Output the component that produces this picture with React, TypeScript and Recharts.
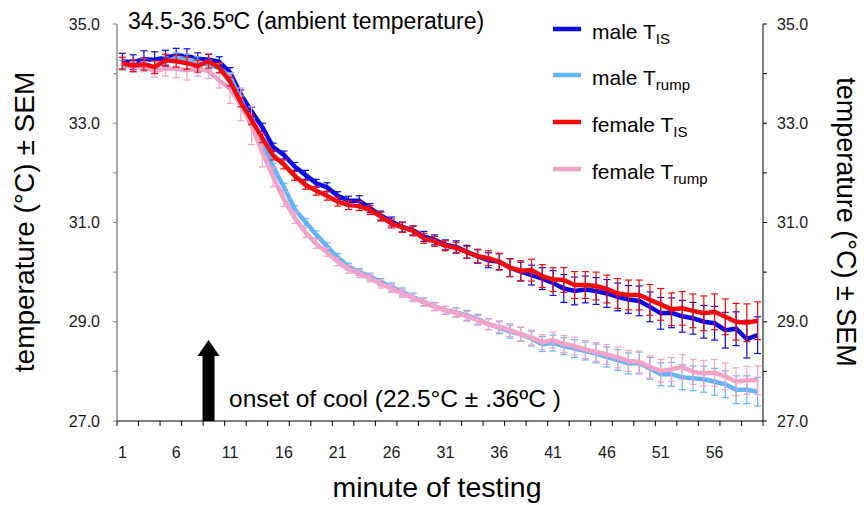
import React from 'react';
import { ComposedChart, Line, XAxis, YAxis, ErrorBar, ReferenceLine } from 'recharts';

const FONT = "'Liberation Sans', Arial, Helvetica, sans-serif";

const minutes = [1, 2, 3, 4, 5, 6, 7, 8, 9, 10, 11, 12, 13, 14, 15, 16, 17, 18, 19, 20, 21, 22, 23, 24, 25, 26, 27, 28, 29, 30, 31, 32, 33, 34, 35, 36, 37, 38, 39, 40, 41, 42, 43, 44, 45, 46, 47, 48, 49, 50, 51, 52, 53, 54, 55, 56, 57, 58, 59, 60];

const maleIS = [34.25, 34.23, 34.29, 34.28, 34.32, 34.37, 34.35, 34.30, 34.28, 34.24, 34.02, 33.58, 33.24, 32.92, 32.52, 32.36, 32.13, 31.96, 31.79, 31.71, 31.54, 31.44, 31.44, 31.29, 31.14, 31.02, 30.91, 30.84, 30.72, 30.65, 30.55, 30.51, 30.41, 30.32, 30.24, 30.21, 30.09, 30.01, 29.94, 29.87, 29.78, 29.67, 29.62, 29.65, 29.62, 29.57, 29.50, 29.45, 29.42, 29.30, 29.17, 29.18, 29.11, 29.07, 29.00, 28.97, 28.83, 28.86, 28.65, 28.73];
const maleISErr = [0.16, 0.15, 0.17, 0.16, 0.15, 0.14, 0.15, 0.12, 0.11, 0.10, 0.10, 0.09, 0.08, 0.08, 0.08, 0.08, 0.08, 0.09, 0.08, 0.09, 0.08, 0.09, 0.10, 0.09, 0.09, 0.09, 0.10, 0.09, 0.10, 0.10, 0.10, 0.12, 0.13, 0.14, 0.15, 0.16, 0.18, 0.19, 0.20, 0.22, 0.25, 0.28, 0.28, 0.27, 0.27, 0.28, 0.28, 0.28, 0.30, 0.30, 0.32, 0.30, 0.32, 0.32, 0.33, 0.34, 0.36, 0.34, 0.38, 0.37];

const maleRump = [34.17, 34.14, 34.19, 34.14, 34.24, 34.32, 34.29, 34.24, 34.17, 34.11, 33.94, 33.47, 33.03, 32.63, 32.12, 31.72, 31.27, 31.01, 30.76, 30.52, 30.30, 30.11, 30.00, 29.91, 29.80, 29.70, 29.60, 29.50, 29.40, 29.31, 29.23, 29.19, 29.13, 29.05, 28.95, 28.88, 28.80, 28.75, 28.66, 28.55, 28.57, 28.51, 28.46, 28.41, 28.36, 28.29, 28.23, 28.16, 28.17, 28.06, 27.94, 27.94, 27.88, 27.86, 27.84, 27.79, 27.74, 27.63, 27.63, 27.59];
const maleRumpErr = [0.10, 0.10, 0.11, 0.10, 0.10, 0.10, 0.10, 0.10, 0.10, 0.09, 0.08, 0.08, 0.07, 0.07, 0.07, 0.07, 0.07, 0.07, 0.07, 0.07, 0.07, 0.07, 0.07, 0.07, 0.07, 0.08, 0.08, 0.08, 0.08, 0.08, 0.08, 0.09, 0.10, 0.10, 0.11, 0.12, 0.13, 0.14, 0.15, 0.15, 0.16, 0.17, 0.18, 0.18, 0.19, 0.20, 0.21, 0.21, 0.22, 0.22, 0.23, 0.24, 0.25, 0.25, 0.26, 0.27, 0.27, 0.28, 0.28, 0.29];

const femaleIS = [34.21, 34.16, 34.19, 34.13, 34.27, 34.25, 34.21, 34.15, 34.25, 34.12, 33.84, 33.42, 33.07, 32.70, 32.35, 32.17, 31.94, 31.76, 31.64, 31.54, 31.42, 31.35, 31.33, 31.25, 31.12, 30.98, 30.90, 30.83, 30.68, 30.62, 30.53, 30.49, 30.40, 30.32, 30.28, 30.21, 30.09, 30.03, 30.04, 29.92, 29.85, 29.84, 29.74, 29.74, 29.72, 29.66, 29.57, 29.54, 29.54, 29.44, 29.35, 29.25, 29.27, 29.22, 29.17, 29.20, 29.10, 29.00, 28.98, 29.02];
const femaleISErr = [0.12, 0.12, 0.12, 0.13, 0.12, 0.12, 0.12, 0.12, 0.14, 0.10, 0.09, 0.09, 0.09, 0.09, 0.09, 0.09, 0.09, 0.09, 0.09, 0.09, 0.09, 0.09, 0.09, 0.09, 0.09, 0.09, 0.10, 0.10, 0.10, 0.10, 0.10, 0.11, 0.12, 0.13, 0.15, 0.17, 0.18, 0.20, 0.22, 0.23, 0.24, 0.25, 0.27, 0.27, 0.28, 0.28, 0.30, 0.30, 0.30, 0.31, 0.32, 0.33, 0.34, 0.34, 0.35, 0.36, 0.36, 0.37, 0.38, 0.38];

const femaleRump = [34.20, 34.13, 34.14, 34.05, 34.10, 34.10, 34.07, 34.10, 34.05, 33.86, 33.70, 33.38, 32.95, 32.42, 31.92, 31.47, 31.10, 30.80, 30.57, 30.40, 30.21, 30.06, 29.97, 29.88, 29.76, 29.67, 29.57, 29.48, 29.39, 29.30, 29.23, 29.18, 29.11, 29.03, 28.95, 28.90, 28.83, 28.75, 28.68, 28.59, 28.63, 28.55, 28.51, 28.44, 28.39, 28.34, 28.28, 28.21, 28.19, 28.09, 28.01, 28.04, 28.09, 27.99, 27.96, 27.97, 27.90, 27.79, 27.82, 27.82];
const femaleRumpErr = [0.12, 0.10, 0.10, 0.12, 0.15, 0.18, 0.20, 0.15, 0.15, 0.15, 0.30, 0.33, 0.38, 0.30, 0.20, 0.15, 0.12, 0.10, 0.09, 0.08, 0.08, 0.08, 0.08, 0.08, 0.08, 0.08, 0.08, 0.08, 0.08, 0.08, 0.08, 0.09, 0.10, 0.10, 0.11, 0.12, 0.13, 0.14, 0.15, 0.15, 0.16, 0.17, 0.18, 0.18, 0.19, 0.20, 0.21, 0.21, 0.22, 0.22, 0.23, 0.24, 0.25, 0.25, 0.26, 0.27, 0.27, 0.28, 0.28, 0.29];

const xLabelTicks = [1, 6, 11, 16, 21, 26, 31, 36, 41, 46, 51, 56];
const xMarkTicks = [0.5, 2.5, 4.5, 6.5, 8.5, 10.5, 12.5, 14.5, 16.5, 18.5, 20.5, 22.5, 24.5, 26.5, 28.5, 30.5, 32.5, 34.5, 36.5, 38.5, 40.5, 42.5, 44.5, 46.5, 48.5, 50.5, 52.5, 54.5, 56.5, 58.5, 60.5];
const yTicks = [27, 28, 29, 30, 31, 32, 33, 34, 35];

const onsetMinute = 9;
const arrowTop = 28.63;

const COLORS = {
  maleIS: '#0a0ae8',
  maleRump: '#62b4f7',
  femaleIS: '#f50a0a',
  femaleRump: '#f3a2c8',
};

const data = minutes.map((m, i) => ({
  m,
  maleIS: maleIS[i],
  maleISErr: maleISErr[i],
  maleRump: maleRump[i],
  maleRumpErr: maleRumpErr[i],
  femaleIS: femaleIS[i],
  femaleISErr: femaleISErr[i],
  femaleRump: femaleRump[i],
  femaleRumpErr: femaleRumpErr[i],
}));

const xTicks = [...xMarkTicks, ...xLabelTicks].sort((a, b) => a - b);
const labelSet = new Set(xLabelTicks);

const XTick = (props: any) => {
  const { x, y, payload } = props;
  const v = payload.value;
  if (labelSet.has(v)) {
    return (
      <text x={x} y={y + 37} textAnchor="middle" fontSize={16} fill="#1a1a1a" fontFamily={FONT}>
        {v}
      </text>
    );
  }
  return <line x1={x} y1={y} x2={x} y2={y + 5} stroke="#000" strokeWidth={1} />;
};

const ArrowShape = (props: any) => {
  const { x1, y1, y2 } = props;
  const cx = x1;
  const top = Math.min(y1, y2);
  const bottom = Math.max(y1, y2);
  const headLen = 16;
  const headHalf = 11;
  const shaftHalf = 6;
  const d = `M${cx - shaftHalf},${bottom} L${cx - shaftHalf},${top + headLen} L${cx - headHalf},${top + headLen} L${cx},${top} L${cx + headHalf},${top + headLen} L${cx + shaftHalf},${top + headLen} L${cx + shaftHalf},${bottom} Z`;
  return <path d={d} fill="#000" stroke="none" />;
};

const fmtY = (v: number) => (v % 2 === 1 ? v.toFixed(1) : '');

const legendItems = [
  { color: COLORS.maleIS, main: 'male T', sub: 'IS', y: 29 },
  { color: COLORS.maleRump, main: 'male T', sub: 'rump', y: 75 },
  { color: COLORS.femaleIS, main: 'female T', sub: 'IS', y: 122 },
  { color: COLORS.femaleRump, main: 'female T', sub: 'rump', y: 169 },
];

export default function App() {
  return (
    <div style={{ position: 'absolute', left: 0, top: 0, width: 864, height: 505, background: '#fff' }}>
      <ComposedChart width={864} height={505} data={data} margin={{ top: 24, right: 0, bottom: 0, left: 0 }}>
        <XAxis
          dataKey="m"
          type="number"
          domain={[0.5, 60.5]}
          ticks={xTicks}
          interval={0}
          tick={<XTick />}
          tickLine={false}
          tickSize={0}
          tickMargin={0}
          axisLine={{ stroke: '#000', strokeWidth: 1 }}
          height={84}
          allowDataOverflow
        />
        <YAxis
          yAxisId="left"
          orientation="left"
          width={117}
          domain={[27, 35]}
          ticks={yTicks}
          interval={0}
          tickFormatter={fmtY}
          tickSize={4}
          tickMargin={13}
          axisLine={{ stroke: '#8c8c8c', strokeWidth: 1.5 }}
          tickLine={{ stroke: '#8c8c8c' }}
          tick={{ fontSize: 16, fill: '#1a1a1a', fontFamily: FONT }}
          allowDataOverflow
        />
        <YAxis
          yAxisId="right"
          orientation="right"
          width={101}
          domain={[27, 35]}
          ticks={yTicks}
          interval={0}
          tickFormatter={fmtY}
          tickSize={4}
          tickMargin={10}
          axisLine={{ stroke: '#000', strokeWidth: 1 }}
          tickLine={{ stroke: '#000' }}
          tick={{ fontSize: 16, fill: '#1a1a1a', fontFamily: FONT }}
          allowDataOverflow
        />
        <ReferenceLine
          yAxisId="left"
          segment={[
            { x: onsetMinute, y: 27 },
            { x: onsetMinute, y: arrowTop },
          ]}
          shape={ArrowShape}
          ifOverflow="visible"
        />
        <Line yAxisId="left" dataKey="maleIS" stroke={COLORS.maleIS} strokeWidth={4.5} dot={false} isAnimationActive={false}>
          <ErrorBar dataKey="maleISErr" width={3.5} stroke={COLORS.maleIS} strokeWidth={1.2} isAnimationActive={false} />
        </Line>
        <Line yAxisId="left" dataKey="maleRump" stroke={COLORS.maleRump} strokeWidth={4.5} dot={false} isAnimationActive={false}>
          <ErrorBar dataKey="maleRumpErr" width={3.5} stroke={COLORS.maleRump} strokeWidth={1.2} isAnimationActive={false} />
        </Line>
        <Line yAxisId="left" dataKey="femaleRump" stroke={COLORS.femaleRump} strokeWidth={4.5} dot={false} isAnimationActive={false}>
          <ErrorBar dataKey="femaleRumpErr" width={3.5} stroke={COLORS.femaleRump} strokeWidth={1.2} isAnimationActive={false} />
        </Line>
        <Line yAxisId="left" dataKey="femaleIS" stroke={COLORS.femaleIS} strokeWidth={4.5} dot={false} isAnimationActive={false}>
          <ErrorBar dataKey="femaleISErr" width={3.5} stroke={COLORS.femaleIS} strokeWidth={1.2} isAnimationActive={false} />
        </Line>
      </ComposedChart>
      <svg width={864} height={505} style={{ position: 'absolute', left: 0, top: 0, pointerEvents: 'none' }} fontFamily={FONT}>
        <text x={128} y={29} fontSize={23} fill="#000">34.5-36.5ºC (ambient temperature)</text>
        <text x={229} y={407} fontSize={24.5} fill="#000">onset of cool (22.5°C ± .36ºC )</text>
        <text x={437} y={497} fontSize={28.5} fill="#000" textAnchor="middle">minute of testing</text>
        <text x={34} y={222} fontSize={28} fill="#000" textAnchor="middle" transform="rotate(-90 34 222)">temperature (°C) ± SEM</text>
        <text x={837} y={222} fontSize={27} fill="#000" textAnchor="middle" transform="rotate(90 837 222)">temperature (°C) ± SEM</text>
        {legendItems.map((it) => (
          <g key={it.main + it.sub}>
            <line x1={553} x2={581} y1={it.y} y2={it.y} stroke={it.color} strokeWidth={4.5} />
            <text x={592} y={it.y + 10} fontSize={21} fill="#000">
              {it.main}
              <tspan fontSize={15} dy={5}>{it.sub}</tspan>
            </text>
          </g>
        ))}
      </svg>
    </div>
  );
}
